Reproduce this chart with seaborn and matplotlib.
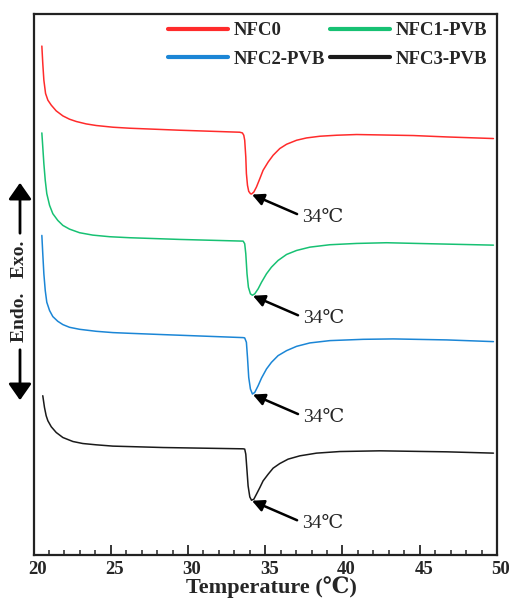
import matplotlib
matplotlib.use("Agg")
import matplotlib.pyplot as plt
import matplotlib.transforms as mtransforms
import seaborn as sns
import pandas as pd

# ---- data (heat flow in arbitrary units) ----
samples = ["NFC0", "NFC1-PVB", "NFC2-PVB", "NFC3-PVB"]
colors = ["#FF2B2B", "#17C173", "#1B86D6", "#1A1A1A"]

t_nfc0 = [20.54, 20.60, 20.67, 20.78, 20.93, 21.15, 21.47, 21.90, 22.33, 22.77, 23.41, 24.06, 25.14, 26.22,
          29.46, 33.35, 33.52, 33.61, 33.67, 33.74, 33.78, 33.85, 33.93, 34.04, 34.11,
          34.26, 34.43, 34.65, 34.86, 35.19, 35.51, 35.94, 36.38, 37.03, 37.67, 38.54, 39.62,
          40.91, 42.42, 44.58, 46.75, 49.77]
hf_nfc0 = [50.8, 49.07, 47.4, 46.07, 45.4, 44.9, 44.33, 43.83, 43.5, 43.27, 43.03, 42.87, 42.7, 42.6,
           42.4, 42.2, 42.13, 41.9, 41.4, 39.73, 38.07, 36.9, 36.3, 36.07, 36.03,
           36.23, 36.73, 37.57, 38.4, 39.23, 39.9, 40.57, 41.0, 41.4, 41.63, 41.8, 41.9,
           41.97, 41.93, 41.87, 41.73, 41.57]

t_nfc1 = [20.54, 20.60, 20.67, 20.76, 20.86, 21.04, 21.25, 21.57, 21.90, 22.33, 22.98, 23.84, 24.93, 26.22,
          29.46, 33.57, 33.67, 33.74, 33.82, 33.91, 34.04, 34.17,
          34.32, 34.54, 34.76, 35.08, 35.40, 35.83, 36.38, 37.03, 37.89, 39.18, 40.91, 42.85, 45.66, 49.77]
hf_nfc1 = [42.13, 40.73, 39.07, 37.4, 36.07, 34.9, 34.07, 33.4, 32.9, 32.53, 32.17, 31.93, 31.77, 31.67,
           31.5, 31.33, 31.07, 30.07, 28.07, 26.73, 26.07, 25.93,
           26.07, 26.57, 27.23, 28.07, 28.73, 29.4, 30.0, 30.4, 30.73, 30.97, 31.1, 31.17, 31.07, 30.93]

t_nfc2 = [20.54, 20.60, 20.67, 20.76, 20.86, 21.04, 21.25, 21.57, 21.90, 22.33, 22.98, 24.06, 25.14, 26.22,
          28.38, 33.57, 33.67, 33.78, 33.85, 33.93, 34.04, 34.17,
          34.32, 34.54, 34.76, 35.08, 35.40, 35.83, 36.38, 37.03, 37.89, 39.18, 41.34, 43.29, 46.75, 49.77]
hf_nfc2 = [31.9, 30.07, 28.07, 26.4, 25.23, 24.4, 23.8, 23.33, 23.0, 22.73, 22.53, 22.33, 22.2, 22.13,
           22.0, 21.7, 21.67, 21.23, 19.73, 17.73, 16.57, 16.07,
           16.23, 16.9, 17.67, 18.57, 19.23, 19.9, 20.4, 20.83, 21.17, 21.4, 21.53, 21.57, 21.47, 21.3]

t_nfc3 = [20.60, 20.71, 20.82, 20.93, 21.15, 21.47, 21.90, 22.55, 23.19, 24.06, 25.14, 28.38, 33.57,
          33.67, 33.74, 33.82, 33.89, 34.0, 34.11,
          34.26, 34.43, 34.65, 34.86, 35.19, 35.51, 35.94, 36.48, 37.24, 38.32, 39.83, 42.42, 46.75, 49.77]
hf_nfc3 = [15.9, 14.73, 13.9, 13.4, 12.8, 12.23, 11.73, 11.33, 11.13, 11.0, 10.87, 10.73, 10.6,
           10.57, 10.07, 8.4, 6.9, 5.8, 5.47,
           5.57, 6.07, 6.73, 7.4, 8.07, 8.67, 9.13, 9.57, 9.9, 10.17, 10.33, 10.4, 10.3, 10.17]

peak_label = "34℃"
peak_t = [34.11, 34.17, 34.17, 34.11]
peak_hf = [36.03, 25.93, 16.07, 5.47]

x_ticks = [20, 25, 30, 35, 40, 45, 50]

# ---- build long table ----
frames = []
for name, t, hf in zip(samples, [t_nfc0, t_nfc1, t_nfc2, t_nfc3], [hf_nfc0, hf_nfc1, hf_nfc2, hf_nfc3]):
    frames.append(pd.DataFrame({"T": t, "HF": hf, "Sample": name}))
df = pd.concat(frames, ignore_index=True)

sns.set_style("white")
serif = ["Liberation Serif", "DejaVu Serif"]
plt.rcParams["font.family"] = serif

fig = plt.figure(figsize=(5.1, 6.01), dpi=100)
ax = fig.add_axes([0.0657, 0.0765, 0.9088, 0.9002])

sns.lineplot(data=df, x="T", y="HF", hue="Sample", hue_order=samples,
             palette=dict(zip(samples, colors)), estimator=None, sort=False,
             linewidth=1.1, ax=ax)

ax.set_xlim(20, 50)
ax.set_ylim(0, 54)
ax.set_xticks(x_ticks)
ax.set_xticks(range(20, 51), minor=True)
ax.set_yticks([])
ax.tick_params(axis="x", which="major", direction="in", length=7, width=1.3,
               bottom=True, top=False, pad=4)
ax.tick_params(axis="x", which="minor", direction="in", length=3.5, width=1.1,
               bottom=True, top=False)
shift = mtransforms.ScaledTranslation(4 / 100, 0, fig.dpi_scale_trans)
for lab in ax.get_xticklabels():
    lab.set_fontweight("bold")
    lab.set_fontsize(13.5)
    lab.set_transform(lab.get_transform() + shift)
for s in ax.spines.values():
    s.set_linewidth(1.6)
    s.set_color("#222222")

ax.set_xlabel("Temperature (℃)", fontsize=16, fontweight="bold", labelpad=-1)
ax.xaxis.label.set_x(0.513)
ax.set_ylabel("")

# peak annotations
tail_dt = 2.95
tail_dhf = -2.0
for pt, ph in zip(peak_t, peak_hf):
    ax.annotate("", xy=(pt + 0.03, ph - 0.05), xytext=(pt + tail_dt, ph + tail_dhf),
                arrowprops=dict(arrowstyle="-|>,head_length=0.7,head_width=0.35",
                                color="black", lw=1.8, shrinkA=0, shrinkB=0))
    ax.text(pt + tail_dt + 0.3, ph + tail_dhf - 0.3, peak_label, fontsize=14,
            ha="left", va="center")

# legend (row-wise order like the reference)
handles, labels = ax.get_legend_handles_labels()
order = [0, 2, 1, 3]
leg = ax.legend([handles[i] for i in order], [labels[i] for i in order], ncol=2,
                loc="upper right", bbox_to_anchor=(1.003, 1.006),
                frameon=False, handlelength=3.2, handletextpad=0.3, columnspacing=0.27,
                labelspacing=0.6, borderaxespad=0.2,
                prop={"family": serif, "weight": "bold", "size": 13.5})
for h in leg.get_lines():
    h.set_linewidth(3)

# y-label with arrows
fig.text(20 / 510, 1 - 291 / 601, "Endo.   Exo.", rotation=90, ha="center", va="center",
         fontsize=14, fontweight="bold")
fig.add_artist(matplotlib.patches.FancyArrowPatch((20 / 510, 1 - 236 / 601), (20 / 510, 1 - 180 / 601),
               transform=fig.transFigure, arrowstyle="-|>,head_length=5,head_width=3.5",
               color="black", lw=2, mutation_scale=2))
fig.add_artist(matplotlib.patches.FancyArrowPatch((20 / 510, 1 - 347 / 601), (20 / 510, 1 - 403 / 601),
               transform=fig.transFigure, arrowstyle="-|>,head_length=5,head_width=3.5",
               color="black", lw=2, mutation_scale=2))

fig.savefig("out.png", dpi=100)
